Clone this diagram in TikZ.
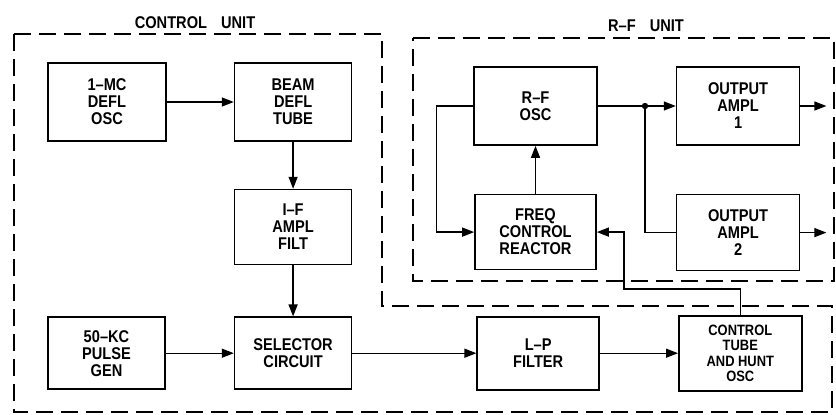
\documentclass[tikz,border=0pt]{standalone}
\usepackage{fontspec}
\setmainfont{Liberation Sans}[FakeStretch=0.86]
\usetikzlibrary{arrows.meta, positioning}
\tikzstyle{block} = [draw, rectangle, line width=1.6pt, minimum width=117pt, minimum height=76pt, align=center, inner sep=2pt, font=\bfseries\fontsize{17}{17}\selectfont]
\tikzstyle{arrow} = [line width=1.4pt, -{Triangle[length=12pt,width=9pt]}]
\tikzstyle{line} = [line width=1.4pt]
\tikzstyle{unitbox} = [line width=2.2pt, dash pattern=on 17pt off 8pt]
\tikzstyle{unitlabel} = [font=\bfseries\fontsize{17}{17}\selectfont]

\begin{document}
\begin{tikzpicture}[x=1pt, y=-1pt]
    \useasboundingbox (0,0) rectangle (836,415);
    % control unit
    \node [block, minimum width=118pt, minimum height=78pt] (deflosc) at (107,102) {1--MC\\DEFL\\OSC};
    \node [block, minimum height=78pt, right=67pt of deflosc] (beamtube) {BEAM\\DEFL\\TUBE};
    \node [block, minimum height=75pt, below=47pt of beamtube] (ifampl) {I--F\\AMPL\\FILT};
    \node [block, minimum height=72pt, below=51pt of ifampl] (selector) {SELECTOR\\CIRCUIT};
    \node [block, minimum height=72pt, left=68pt of selector] (pulsegen) {50--KC\\PULSE\\GEN};
    \node [block, minimum width=122pt, minimum height=73pt, right=124pt of selector] (lpfilter) {L--P\\FILTER};
    \node [block, minimum width=123pt, minimum height=75pt, right=78pt of lpfilter, font=\bfseries\fontsize{15}{15.5}\selectfont] (ctrltube) {CONTROL\\TUBE\\AND HUNT\\OSC};
    % r-f unit
    \node [block, minimum width=123pt, minimum height=78pt] (rfosc) at (535.5,106) {R--F\\OSC};
    \node [block, minimum width=123pt, minimum height=78pt, right=78pt of rfosc] (outampl1) {OUTPUT\\AMPL\\1};
    \node [block, minimum width=121pt, minimum height=75pt, below=48pt of rfosc] (freqreact) {FREQ\\CONTROL\\REACTOR};
    \node [block, minimum width=123pt, minimum height=76pt, below=48pt of outampl1] (outampl2) {OUTPUT\\AMPL\\2};
    \coordinate (junc) at (645,106);

    \draw [arrow] (deflosc) -- (beamtube);
    \draw [arrow] (beamtube) -- (ifampl);
    \draw [arrow] (ifampl) -- (selector);
    \draw [arrow] (pulsegen) -- (selector);
    \draw [arrow] (selector) -- (lpfilter);
    \draw [arrow] (lpfilter) -- (ctrltube);
    \draw [arrow] (ctrltube.north) -- ++(0,-26) -| ([xshift=27pt]freqreact.east) -- (freqreact.east);
    \draw [arrow] (freqreact) -- (rfosc);
    \draw [arrow] (rfosc.west) -- ++(-37,0) |- (freqreact.west);
    \draw [arrow] (rfosc) -- (outampl1);
    \fill (junc) circle (3.2pt);
    \draw [line] (junc) |- (outampl2.west);
    \draw [arrow] (outampl1.east) -- ++(26,0);
    \draw [arrow] (outampl2.east) -- ++(26,0);

    \draw [unitbox] (14,34) -- (382,34) -- (382,306) -- (832,306) -- (832,412) -- (14,412) -- cycle;
    \draw [unitbox] (413,38) -- (834,38) -- (834,281) -- (413,281) -- cycle;
    \node [unitlabel] (ctrltitle) at (195,23) {CONTROL\hspace{14pt}UNIT};
    \node [unitlabel] (rftitle) at (646,26) {R--F\hspace{14pt}UNIT};
\end{tikzpicture}
\end{document}
